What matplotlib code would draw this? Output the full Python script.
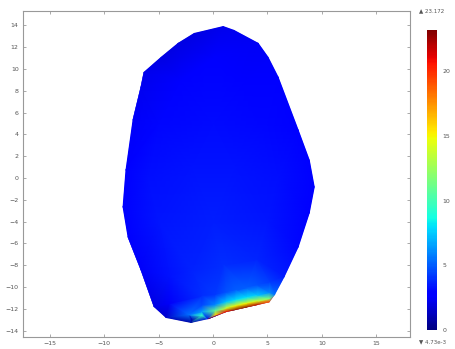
import matplotlib
matplotlib.use('Agg')
import matplotlib.pyplot as plt
import matplotlib.tri as mtri
from matplotlib.patches import Polygon

# outline nodes of the section (counter-clockwise from the top), with field values
edge_x = [0.93, -1.76, -3.24, -4.81, -6.39, -6.67, -7.41, -8.06, -8.33, -7.87,
          -6.67, -5.46, -4.35, -2.04, -0.46, 1.2, 2.1, 3.06, 4.1, 5.19, 5.7,
          6.57, 7.87, 8.89, 9.35, 8.89, 7.87, 6.02, 5.09, 4.17, 1.94]
edge_y = [13.94, 13.3, 12.39, 11.1, 9.72, 8.35, 5.32, 0.73, -2.66, -5.41,
          -8.44, -11.83, -12.84, -13.3, -12.95, -12.3, -12.1, -11.88, -11.65, -11.4, -10.7,
          -9.08, -6.33, -3.21, -0.83, 1.65, 4.4, 9.27, 11.1, 12.39, 13.58]
edge_v = [2.2, 2.0, 2.0, 2.0, 2.2, 2.3, 2.5, 2.6, 2.6, 2.6,
          2.5, 2.0, 1.5, 0.6, 2.0, 21.0, 23.0, 23.0, 22.0, 20.0, 5.5,
          3.5, 3.0, 2.8, 2.8, 2.8, 2.7, 2.6, 2.5, 2.4, 2.3]

# interior nodes: body, then the rows above the hot strip
core_x = [0, -3, 3, -5, 0, 5, -6, -2, 2, 6, -5, 0, 5, -4, -2, 1, 4, -4.0, -2.0,
          -2.2, -1.0, 0.2,
          -1.0, 0.2, 1.2, 2.1, 3.06, 4.1, 5.19,
          -1.0, 0.2, 1.2, 2.1, 3.06, 4.1, 5.19,
          -1.0, 0.2, 1.2, 2.1, 3.06, 4.1, 5.19]
core_y = [11, 9, 9, 5, 5, 5, 0, 1, 1, 0, -4, -4, -4, -9, -8.5, -8, -7.5, -11.5, -12.95,
          -12.55, -12.62, -12.55,
          -12.27, -12.2, -11.95, -11.75, -11.53, -11.3, -11.05,
          -11.72, -11.65, -11.4, -11.2, -10.98, -10.75, -10.5,
          -10.82, -10.75, -10.5, -10.3, -10.08, -9.85, -9.6]
core_v = [2.6, 2.8, 2.8, 3.0, 3.1, 3.0, 3.2, 3.3, 3.3, 3.2, 3.4, 3.6, 3.4,
          3.3, 3.7, 3.9, 3.8, 2.5, 1.0,
          5.5, 9.5, 16.0,
          6.5, 11.0, 14.0, 15.0, 15.0, 14.0, 12.0,
          4.6, 6.0, 7.5, 8.0, 8.0, 7.5, 6.0,
          3.9, 4.2, 4.8, 5.0, 5.0, 4.8, 4.3]

x_ticks = [-15, -10, -5, 0, 5, 10, 15]
y_ticks = [14, 12, 10, 8, 6, 4, 2, 0, -2, -4, -6, -8, -10, -12, -14]
cbar_ticks = [0, 5, 10, 15, 20]
v_min, v_max = 0.0, 23.2
max_label = '\u25b2 23.172'
min_label = '\u25bc 4.73e-3'

fig = plt.figure(figsize=(4.56, 3.49), dpi=100)
ax = fig.add_axes([0.050, 0.034, 0.849, 0.934])

tri = mtri.Triangulation(edge_x + core_x, edge_y + core_y)
mesh = ax.tripcolor(tri, edge_v + core_v, shading='gouraud', cmap='jet',
                    vmin=v_min, vmax=v_max)
outline = Polygon(list(zip(edge_x, edge_y)), closed=True, transform=ax.transData,
                  facecolor='none', edgecolor='none')
ax.add_patch(outline)
mesh.set_clip_path(outline)

ax.set_xlim(-17.5, 18.1)
ax.set_ylim(-14.6, 15.3)
ax.set_xticks(x_ticks)
ax.set_yticks(y_ticks)
ax.tick_params(direction='in', top=True, right=True, labelsize=4.5,
               colors='#888888', labelcolor='#555555', length=2, width=0.5, pad=3)
for s in ax.spines.values():
    s.set_color('#999999')
    s.set_linewidth(0.8)

cax = fig.add_axes([0.936, 0.054, 0.022, 0.860])
cb = fig.colorbar(mesh, cax=cax, ticks=cbar_ticks)
cb.outline.set_visible(False)
cax.tick_params(labelsize=4.5, length=0, labelcolor='#555555', pad=4)

fig.text(0.918, 0.968, max_label, fontsize=4, color='#555555', va='center')
fig.text(0.918, 0.020, min_label, fontsize=4, color='#555555', va='center')

fig.savefig('out.png', dpi=100)
